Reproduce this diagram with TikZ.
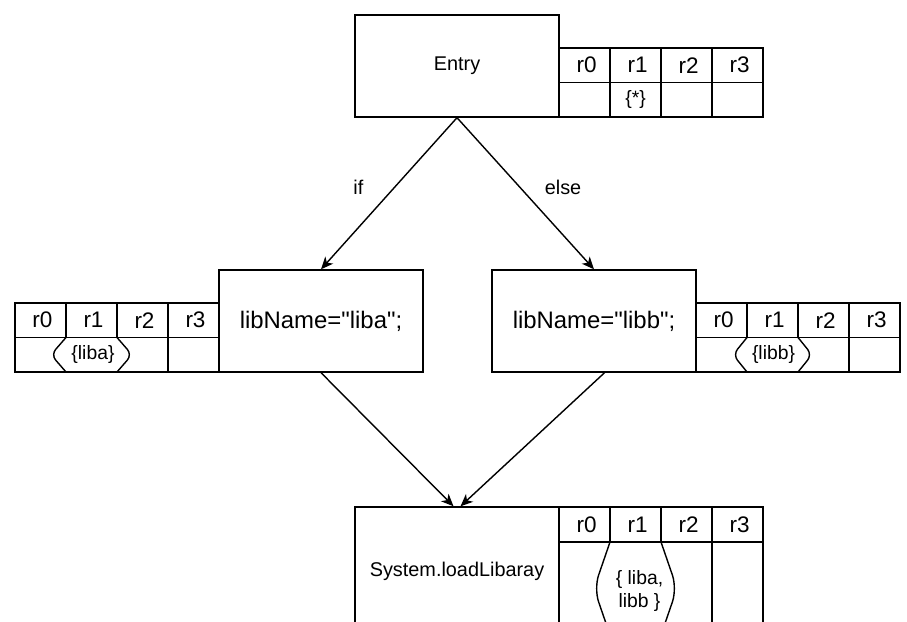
\documentclass[tikz,border=0pt]{standalone}
\usepackage{fontspec}
\setmainfont{Liberation Sans}[Ligatures=TeXOff]
\usetikzlibrary{arrows.meta}
\tikzset{
  block/.style={draw, line width=0.8pt, minimum width=4.08cm, minimum height=2.04cm, inner sep=0pt},
  reg/.style={font=\fontsize{12.8}{15}\selectfont, inner sep=0pt},
  val/.style={font=\fontsize{11}{13}\selectfont, inner sep=0pt, align=center},
  lbl/.style={font=\fontsize{11.3}{13}\selectfont, inner sep=0pt},
  flow/.style={-{Stealth[length=7pt,width=6pt,inset=2pt]}, line width=0.8pt},
}
\begin{document}
\begin{tikzpicture}[line width=0.8pt]
  \useasboundingbox (0,0) rectangle (18.14,12.42);
  \clip (0,0) rectangle (18.14,12.42);
  \node[block, font=\fontsize{11.3}{13}\selectfont] (entry) at (9.14,11.1) {Entry};
  \node[block, font=\fontsize{13.6}{16}\selectfont] (liba) at (6.42,6.0) {libName="liba";};
  \node[block, font=\fontsize{13.6}{16}\selectfont] (libb) at (11.88,6.0) {libName="libb";};
  \node[block, minimum height=2.56cm, font=\fontsize{11.3}{13}\selectfont] (sys) at (9.14,1.0) {System.loadLibaray};

  % registers of Entry
  \draw[shift={(11.18,10.08)}] (0,0) grid[xstep=1.02,ystep=0.69] (4.08,1.38);
  \draw (11.18,10.08) rectangle (15.26,11.46);
  \node[reg] (e0) at (11.73,11.115) {r0};
  \node[reg] (e1) at (12.75,11.115) {r1};
  \node[reg] (e2) at (13.77,11.115) {r2};
  \node[reg] (e3) at (14.79,11.115) {r3};
  \node[val] (estar) at (12.71,10.42) {\{*\}};

  % registers of liba
  \draw[shift={(0.30,5.67)}] (0,0) grid[xstep=1.02,ystep=0.69] (4.08,0.69);
  \draw (0.30,4.98) rectangle (4.38,6.36);
  \draw (3.36,4.98) -- (3.36,5.67);
  \draw[rounded corners=4pt] (1.32,5.67) -- (1.02,5.325) -- (1.32,4.98);
  \draw[rounded corners=4pt] (2.34,5.67) -- (2.64,5.325) -- (2.34,4.98);
  \node[reg] (a0) at (0.85,6.015) {r0};
  \node[reg] (a1) at (1.87,6.015) {r1};
  \node[reg] (a2) at (2.89,6.015) {r2};
  \node[reg] (a3) at (3.91,6.015) {r3};
  \node[val] (avals) at (1.86,5.32) {\{liba\}};

  % registers of libb
  \draw[shift={(13.92,5.67)}] (0,0) grid[xstep=1.02,ystep=0.69] (4.08,0.69);
  \draw (13.92,4.98) rectangle (18.00,6.36);
  \draw (16.98,4.98) -- (16.98,5.67);
  \draw[rounded corners=4pt] (14.94,5.67) -- (14.66,5.325) -- (14.94,4.98);
  \draw[rounded corners=4pt] (15.96,5.67) -- (16.24,5.325) -- (15.96,4.98);
  \node[reg] (b0) at (14.47,6.015) {r0};
  \node[reg] (b1) at (15.49,6.015) {r1};
  \node[reg] (b2) at (16.51,6.015) {r2};
  \node[reg] (b3) at (17.53,6.015) {r3};
  \node[val] (bvals) at (15.47,5.32) {\{libb\}};

  % registers of System.loadLibaray
  \draw[shift={(11.18,1.58)}] (0,0) grid[xstep=1.02,ystep=0.70] (4.08,0.70);
  \draw (11.18,-0.28) rectangle (15.26,2.28);
  \draw (14.24,-0.28) -- (14.24,1.58);
  \draw[rounded corners=8pt] (12.20,1.58) -- (11.88,0.65) -- (12.20,-0.28);
  \draw[rounded corners=8pt] (13.22,1.58) -- (13.54,0.65) -- (13.22,-0.28);
  \node[reg] (s0) at (11.73,1.93) {r0};
  \node[reg] (s1) at (12.75,1.93) {r1};
  \node[reg] (s2) at (13.77,1.93) {r2};
  \node[reg] (s3) at (14.79,1.93) {r3};
  \node[val] (svals) at (12.79,0.6) {\{ liba,\\libb \}};

  \draw[flow] (entry.south) -- node[lbl, pos=0.46, xshift=-0.72cm] (iflbl) {if} (liba.north);
  \draw[flow] (entry.south) -- node[lbl, pos=0.46, xshift=0.86cm] (elselbl) {else} (libb.north);
  \draw[flow] (liba.south) -- ([xshift=-2pt]sys.north);
  \draw[flow] ([xshift=6pt]libb.south) -- ([xshift=2pt]sys.north);
\end{tikzpicture}
\end{document}
